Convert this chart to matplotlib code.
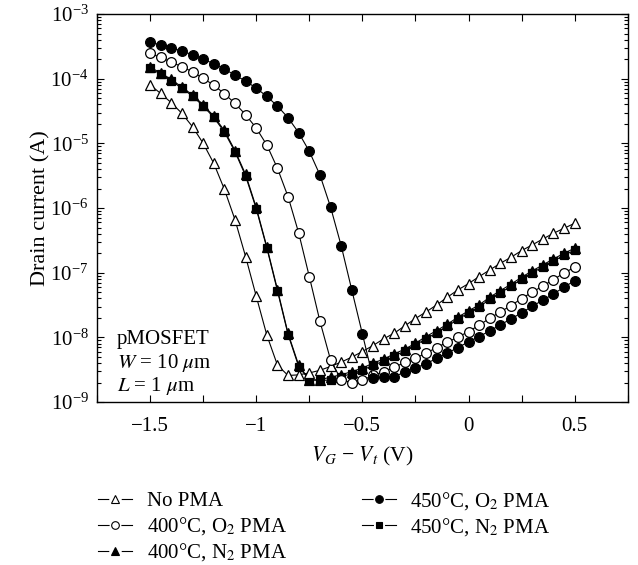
import numpy as np
import matplotlib
matplotlib.use("Agg")
import matplotlib.pyplot as plt
from matplotlib.lines import Line2D
from matplotlib.legend_handler import HandlerTuple
from matplotlib.ticker import MultipleLocator, LogLocator, FixedLocator, NullFormatter

plt.rcParams["font.family"] = ["Liberation Serif", "DejaVu Serif"]
plt.rcParams["mathtext.fontset"] = "stix"

## gate overdrive V_G - V_t (V)
vg = [-1.5, -1.45, -1.4, -1.35, -1.3, -1.25, -1.2, -1.15, -1.1, -1.05,
      -1.0, -0.95, -0.9, -0.85, -0.8, -0.75, -0.7, -0.65, -0.6, -0.55,
      -0.5, -0.45, -0.4, -0.35, -0.3, -0.25, -0.2, -0.15, -0.1, -0.05,
      0.0, 0.05, 0.1, 0.15, 0.2, 0.25, 0.3, 0.35, 0.4, 0.45, 0.5]

## drain current, stored as log10(I / A)
log_no_pma = [-4.097, -4.226, -4.371, -4.535, -4.742, -4.998, -5.308, -5.709, -6.18, -6.751,
              -7.363, -7.966, -8.43, -8.59, -8.58, -8.55, -8.51, -8.45, -8.383, -8.306,
              -8.219, -8.127, -8.023, -7.935, -7.822, -7.709, -7.606, -7.498, -7.379, -7.266,
              -7.168, -7.06, -6.957, -6.854, -6.761, -6.658, -6.57, -6.478, -6.39, -6.312, -6.235]
log_400_o2 = [-3.608, -3.67, -3.742, -3.814, -3.892, -3.994, -4.097, -4.232, -4.38, -4.556,
              -4.762, -5.025, -5.385, -5.824, -6.385, -7.06, -7.75, -8.348, -8.657, -8.699,
              -8.662, -8.59, -8.533, -8.461, -8.389, -8.322, -8.244, -8.157, -8.075, -7.997,
              -7.91, -7.812, -7.704, -7.606, -7.508, -7.4, -7.3, -7.204, -7.107, -7.003, -6.915]
log_400_n2 = [-3.82, -3.91, -4.01, -4.13, -4.25, -4.4, -4.58, -4.8, -5.11, -5.48,
              -5.99, -6.6, -7.26, -7.94, -8.43, -8.657, -8.657, -8.615, -8.58, -8.529,
              -8.476, -8.399, -8.337, -8.255, -8.183, -8.09, -7.988, -7.895, -7.797, -7.688,
              -7.59, -7.498, -7.379, -7.277, -7.178, -7.07, -6.972, -6.879, -6.787, -6.699, -6.621]
log_450_o2 = [-3.438, -3.474, -3.521, -3.572, -3.629, -3.696, -3.768, -3.85, -3.943, -4.036,
              -4.144, -4.273, -4.422, -4.603, -4.835, -5.122, -5.488, -5.983, -6.581, -7.266,
              -7.946, -8.63, -8.621, -8.606, -8.538, -8.476, -8.405, -8.327, -8.244, -8.157,
              -8.07, -7.987, -7.9, -7.807, -7.714, -7.621, -7.518, -7.425, -7.328, -7.224, -7.122]
log_450_n2 = [-3.839, -3.927, -4.03, -4.148, -4.267, -4.422, -4.597, -4.824, -5.128, -5.504,
              -6.01, -6.617, -7.281, -7.957, -8.452, -8.657, -8.667, -8.66, -8.61, -8.56,
              -8.51, -8.43, -8.37, -8.29, -8.21, -8.12, -8.02, -7.93, -7.83, -7.72,
              -7.62, -7.53, -7.41, -7.31, -7.21, -7.1, -7.0, -6.91, -6.82, -6.73, -6.65]

labels = ["No PMA", "400°C, O$_2$ PMA", "400°C, N$_2$ PMA",
          "450°C, O$_2$ PMA", "450°C, N$_2$ PMA"]

fig = plt.figure(figsize=(6.38, 5.65), dpi=100)
ax = fig.add_axes([0.152, 0.2885, 0.832, 0.6865])

x = np.array(vg)
## (values, marker, face colour) -- plotted back to front
series = [
    (log_450_n2, "s", "black"),
    (log_400_n2, "^", "black"),
    (log_no_pma, "^", "white"),
    (log_400_o2, "o", "white"),
    (log_450_o2, "o", "black"),
]
for vals, mk, fc in series:
    ax.plot(x, 10.0 ** np.array(vals), color="black", lw=0.8, marker=mk,
            ms=7.0 if mk != "s" else 6.2, mfc=fc, mec="black", mew=0.9)

ax.set_yscale("log")
ax.set_xlim(-1.75, 0.75)
ax.set_ylim(1e-9, 1e-3)

ax.xaxis.set_major_locator(FixedLocator([-1.5, -1.0, -0.5, 0.0, 0.5]))
ax.xaxis.set_minor_locator(MultipleLocator(0.25))
ax.set_xticklabels(["\u22121.5", "\u22121", "\u22120.5", "0", "0.5"])
ax.yaxis.set_major_locator(LogLocator(base=10, numticks=10))
ax.yaxis.set_minor_locator(LogLocator(base=10, subs=np.arange(2, 10), numticks=20))
ax.yaxis.set_minor_formatter(NullFormatter())
ax.tick_params(which="both", direction="in", top=True, right=True, labelsize=15, width=0.8)
ax.tick_params(which="major", length=5)
ax.tick_params(which="minor", length=3)
ax.tick_params(axis="x", which="minor", length=5)
ax.tick_params(axis="x", which="major", pad=11)
ax.tick_params(axis="y", which="major", pad=6)
for s in ax.spines.values():
    s.set_linewidth(1.0)

ax.set_xlabel("$V_G$ \u2212 $V_t$ (V)", fontsize=15.5, labelpad=6)
ax.set_ylabel("Drain current (A)", fontsize=16, labelpad=0)

ax.text(0.038, 0.162, "pMOSFET", transform=ax.transAxes, fontsize=15, va="center")
ax.text(0.038, 0.1, "$W$ = 10 $\\mu$m", transform=ax.transAxes, fontsize=15, va="center")
ax.text(0.038, 0.042, "$L$ = 1 $\\mu$m", transform=ax.transAxes, fontsize=15, va="center")

## legend handles: short line, white blob to break it, then the small marker
leg_style = [("^", "white", 6.0), ("o", "white", 5.5), ("^", "black", 6.0),
             ("o", "black", 5.5), ("s", "black", 5.0)]
leg_handles = []
for m, fc, s in leg_style:
    line = Line2D([], [], color="black", lw=0.8)
    gap = Line2D([], [], ls="none", marker="o", ms=s + 3, mfc="white", mec="none")
    mark = Line2D([], [], ls="none", marker=m, mfc=fc, mec="black", mew=0.8, ms=s)
    leg_handles.append((line, gap, mark))
fig.legend(leg_handles, labels, loc="upper left",
           handler_map={tuple: HandlerTuple(ndivide=1)},
           bbox_to_anchor=(0.154, 0.133), ncol=2, frameon=False, fontsize=15,
           handlelength=1.63, handletextpad=0.7, columnspacing=3.6,
           labelspacing=0.2, borderaxespad=0, borderpad=0)

fig.savefig("out.png", dpi=100)
